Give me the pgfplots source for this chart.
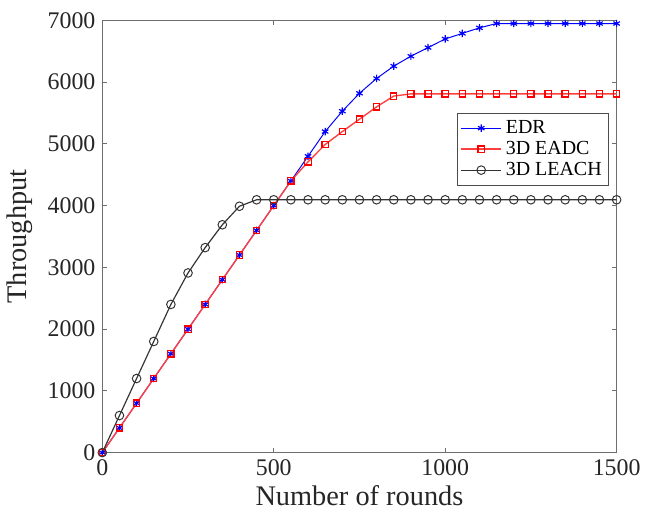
\documentclass[border=0pt]{standalone}
\usepackage{fontspec}
\setmainfont{Liberation Serif}
\usepackage{pgfplots}
\pgfplotsset{compat=1.18}
\definecolor{axgray}{RGB}{110,110,110}
\begin{document}
\begin{tikzpicture}
\begin{axis}[
  scale only axis,
  width=263pt, height=221pt,
  xmin=0, xmax=1500, ymin=0, ymax=7000,
  xtick={0,500,1000,1500},
  ytick={0,1000,2000,3000,4000,5000,6000,7000},
  axis line style={axgray, line width=0.8pt},
  tick style={axgray, line width=0.6pt},
  tick align=inside,
  major tick length=2.5pt,
  /pgf/number format/assume math mode=true,
  /pgf/number format/set thousands separator={},
  ticklabel style={font=\fontsize{12.2}{13}\selectfont, text=black!85},
  xlabel={Number of rounds},
  ylabel={Throughput},
  label style={font=\fontsize{14.5}{15}\selectfont, text=black!85},
  xlabel style={yshift=2pt},
  ylabel style={yshift=1pt},
  legend style={at={(0.985,0.786)}, anchor=north east, draw=black!70, font=\fontsize{10.2}{11}\selectfont, row sep=-1.5pt, inner sep=1.5pt},
  legend cell align=left,
  legend image code/.code={
    \draw[mark repeat=2,mark phase=2,#1] plot coordinates {(0cm,0cm) (0.36cm,0cm) (0.72cm,0cm)};
  },
  clip=false,
]
\addplot[color=blue, line width=0.5pt, mark=asterisk, mark size=1.9pt, mark options={line width=0.6pt}] coordinates {
(0,0) (50,400) (100,800) (150,1200) (200,1600) (250,2000) (300,2400) (350,2800) (400,3200) (450,3600) (500,4000) (550,4400)
(600,4800) (650,5200) (700,5530) (750,5820) (800,6060) (850,6260) (900,6420) (950,6560) (1000,6700) (1050,6790) (1100,6880)
(1150,6950) (1200,6950) (1250,6950) (1300,6950) (1350,6950) (1400,6950) (1450,6950) (1500,6950)
};
\addlegendentry{EDR}
\addplot[color=red!75, line width=0.7pt, mark=square, mark size=1.6pt, mark options={color=red, line width=0.6pt}] coordinates {
(0,0) (50,400) (100,800) (150,1200) (200,1600) (250,2000) (300,2400) (350,2800) (400,3200) (450,3600) (500,4000) (550,4400)
(600,4710) (650,4990) (700,5200) (750,5400) (800,5600) (850,5775) (900,5810) (950,5810) (1000,5810) (1050,5810) (1100,5810)
(1150,5810) (1200,5810) (1250,5810) (1300,5810) (1350,5810) (1400,5810) (1450,5810) (1500,5810)
};
\addlegendentry{3D EADC}
\addplot[color=black!80, line width=0.6pt, mark=o, mark size=2.2pt, mark options={line width=0.5pt}] coordinates {
(0,0) (50,600) (100,1200) (150,1800) (200,2400) (250,2910) (300,3320) (350,3690) (400,3990) (450,4095)
(500,4095) (550,4095) (600,4095) (650,4095) (700,4095) (750,4095) (800,4095) (850,4095) (900,4095) (950,4095) (1000,4095)
(1050,4095) (1100,4095) (1150,4095) (1200,4095) (1250,4095) (1300,4095) (1350,4095) (1400,4095) (1450,4095) (1500,4095)
};
\addlegendentry{3D LEACH}
\end{axis}
\path (current axis.outer north) ++(0,3pt);
\end{tikzpicture}
\end{document}
